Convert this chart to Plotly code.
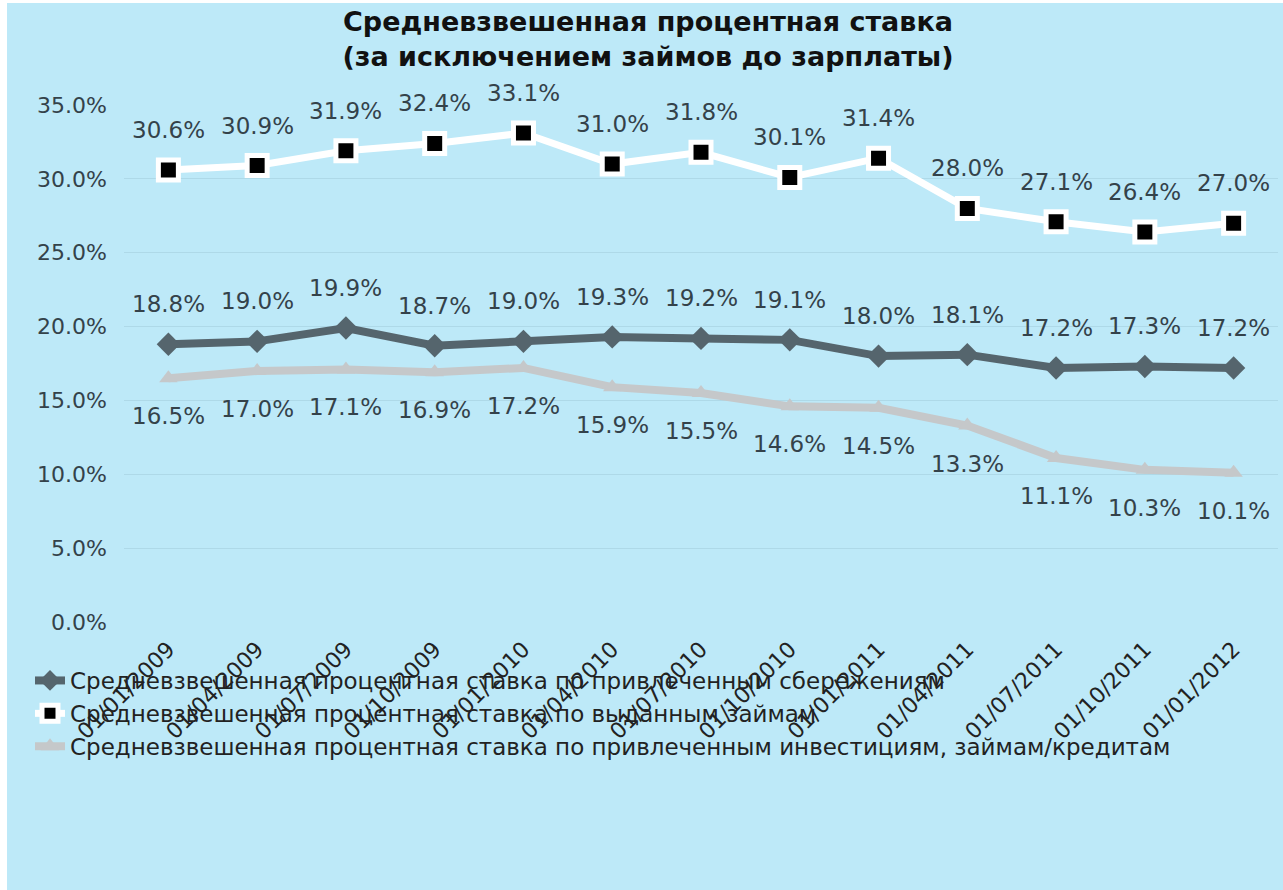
import plotly.graph_objects as go

# Quarterly reporting dates
dates = ["01/01/2009", "01/04/2009", "01/07/2009", "01/10/2009", "01/01/2010",
         "01/04/2010", "01/07/2010", "01/10/2010", "01/01/2011", "01/04/2011",
         "01/07/2011", "01/10/2011", "01/01/2012"]

# Weighted average rates, %
savings_rate = [18.8, 19.0, 19.9, 18.7, 19.0, 19.3, 19.2, 19.1, 18.0, 18.1, 17.2, 17.3, 17.2]
loans_issued_rate = [30.6, 30.9, 31.9, 32.4, 33.1, 31.0, 31.8, 30.1, 31.4, 28.0, 27.1, 26.4, 27.0]
borrowed_rate = [16.5, 17.0, 17.1, 16.9, 17.2, 15.9, 15.5, 14.6, 14.5, 13.3, 11.1, 10.3, 10.1]

names = [
    "Средневзвешенная процентная ставка по привлеченным сбережениям",
    "Средневзвешенная процентная ставка по выданным займам",
    "Средневзвешенная процентная ставка по привлеченным инвестициям, займам/кредитам",
]

FONT = "DejaVu Sans, Verdana, sans-serif"
TEXT = "#34424a"
BG = "#bde9f8"
GRID = "#aed9e8"

W, H = 1283, 890
ML, MR, MT, MB = 124, 5, 105, 268

fig = go.Figure()

fig.add_trace(go.Scatter(
    x=dates, y=savings_rate, name=names[0], mode="lines+markers",
    line=dict(color="#55656d", width=8),
    marker=dict(symbol="diamond", size=18, color="#55656d"),
))
fig.add_trace(go.Scatter(
    x=dates, y=loans_issued_rate, name=names[1], mode="lines+markers",
    line=dict(color="#ffffff", width=7),
    marker=dict(symbol="square", size=20, color="#000000",
                line=dict(color="#ffffff", width=5)),
))
fig.add_trace(go.Scatter(
    x=dates, y=borrowed_rate, name=names[2], mode="lines+markers",
    line=dict(color="#c5c8ca", width=8),
    marker=dict(symbol="triangle-up", size=16, color="#c5c8ca"),
))

# Value labels: above for the first two series, below for the third
annotations = []
for series, shift in ((savings_rate, 40), (loans_issued_rate, 40), (borrowed_rate, -38)):
    for d, v in zip(dates, series):
        annotations.append(dict(
            x=d, y=v, xref="x", yref="y", text=f"{v:.1f}%", showarrow=False,
            yshift=shift, font=dict(family=FONT, size=23, color=TEXT),
        ))

# Background panel with a thin white edge on the left and top
pw = W - ML - MR
ph = H - MT - MB
def px_x(p):
    return (p - ML) / pw
def px_y(p):
    return (H - MB - p) / ph

shapes = [dict(
    type="rect", xref="paper", yref="paper", layer="below",
    x0=px_x(7), x1=px_x(W + 5), y0=px_y(H + 5), y1=px_y(3),
    fillcolor=BG, line=dict(width=0),
)]

fig.update_layout(
    width=W, height=H,
    margin=dict(l=ML, r=MR, t=MT, b=MB),
    paper_bgcolor="#ffffff",
    plot_bgcolor="rgba(0,0,0,0)",
    font=dict(family=FONT, color=TEXT),
    title=dict(
        text="<b>Средневзвешенная процентная ставка<br>(за исключением займов до зарплаты)</b>",
        x=648 / W, xref="container", xanchor="center", y=0.965, yanchor="top",
        font=dict(family=FONT, size=27, color="#111111"),
    ),
    xaxis=dict(
        type="category", range=[-0.5, 12.5],
        tickangle=-45, tickfont=dict(family=FONT, size=22, color="#222222"),
        showgrid=False, showline=False, zeroline=False, ticks="",
        ticklabelstandoff=9,
    ),
    yaxis=dict(
        range=[0, 35], dtick=5, tickformat=".1f", ticksuffix="%",
        tickfont=dict(family=FONT, size=22, color=TEXT),
        showgrid=True, gridcolor=GRID, gridwidth=1,
        zeroline=False, showline=False, ticks="", ticklabelstandoff=16,
    ),
    legend=dict(
        orientation="v", x=px_x(30), y=px_y(659), xanchor="left", yanchor="top",
        bgcolor="rgba(0,0,0,0)", font=dict(family=FONT, size=23, color="#222222"),
        tracegroupgap=0, itemsizing="trace", itemwidth=30,
    ),
    annotations=annotations,
    shapes=shapes,
)

fig.write_html("out.html")
